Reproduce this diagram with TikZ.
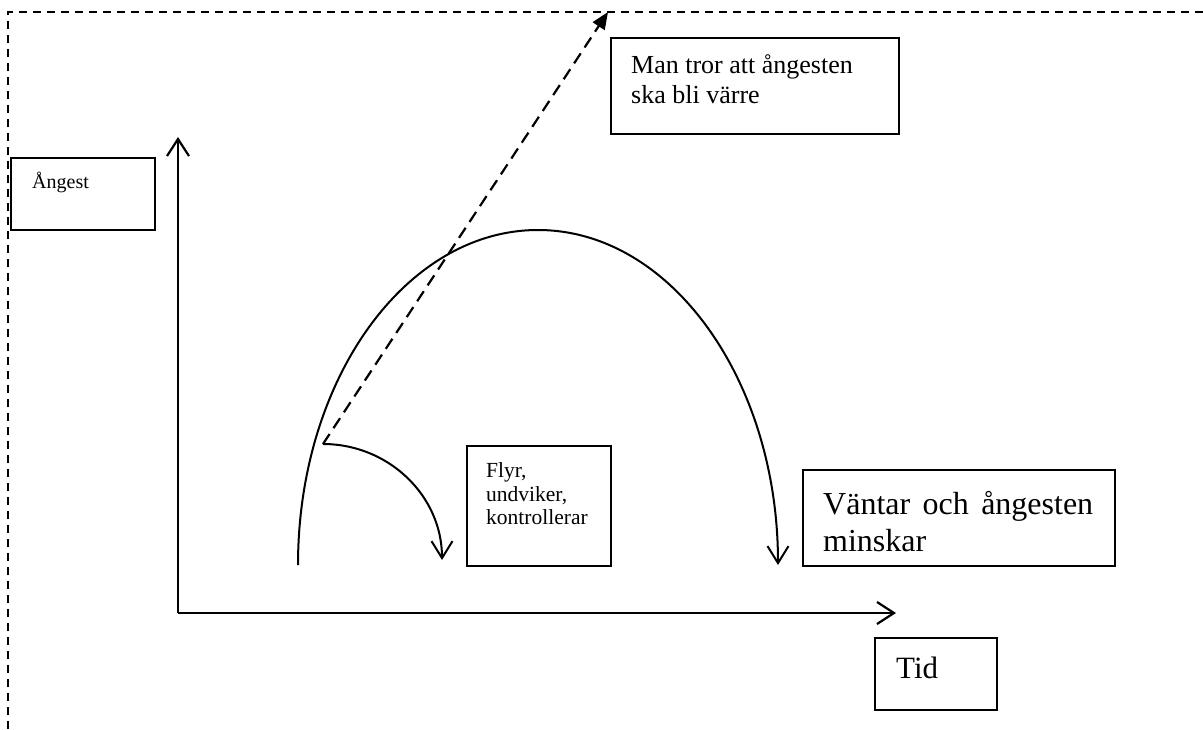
\documentclass[tikz,border=0pt]{standalone}
\usepackage{fontspec}
\setmainfont{Liberation Serif}
\usetikzlibrary{arrows.meta}
\tikzset{
  box/.style={draw, line width=1.6pt, inner sep=0pt},
  txt/.style={anchor=base west, inner sep=0pt},
  axis/.style={line width=2.2pt, -{Straight Barb[length=17pt,width=22pt,line width=2.2pt]}},
  curve/.style={line width=2pt, -{Straight Barb[length=17pt,width=21pt,line width=2pt]}},
  frame/.style={line width=1.3pt, dash pattern=on 8pt off 6pt},
  belief/.style={line width=2.2pt, dash pattern=on 12pt off 7pt, -{Triangle[length=17pt,width=14pt]}}
}
\begin{document}
\begin{tikzpicture}[x=1pt,y=1pt]
\useasboundingbox (0,-729) rectangle (1203,0);
% outer dashed frame (top and left edges visible)
\coordinate (fbl) at (8,-729);
\coordinate (ftl) at (8,-12);
\coordinate (ftr) at (1203,-12);
\draw[frame] (fbl) -- (ftl) -- (ftr);

% boxes
\node[box, minimum width=144pt, minimum height=72pt, anchor=north west] (angbox) at (10,-157) {};
\node[box, minimum width=288pt, minimum height=96pt, anchor=north west] (manbox) at (610,-37) {};
\node[box, minimum width=144pt, minimum height=120pt, anchor=north west] (flybox) at (466,-445) {};
\node[box, minimum width=312pt, minimum height=96pt, anchor=north west] (vanbox) at (802,-469) {};
\node[box, minimum width=122pt, minimum height=72pt, anchor=north west] (tidbox) at (874,-637) {};

% texts
\node[txt, font=\fontsize{20}{24}\selectfont] (angtxt) at (32,-188) {Ångest};
\node[txt, font=\fontsize{26}{30}\selectfont] (man1) at (631,-73) {Man tror att ångesten};
\node[txt, font=\fontsize{26}{30}\selectfont] (man2) at (631,-103) {ska bli värre};
\node[txt, font=\fontsize{21.5}{24}\selectfont] (fly1) at (486,-477) {Flyr,};
\node[txt, font=\fontsize{21.5}{24}\selectfont] (fly2) at (486,-501) {undviker,};
\node[txt, font=\fontsize{21.5}{24}\selectfont] (fly3) at (486,-524) {kontrollerar};
\node[txt, font=\fontsize{32}{37}\selectfont] (van1) at (823,-514) {\makebox[270pt][s]{Väntar och ångesten}};
\node[txt, font=\fontsize{32}{37}\selectfont] (van2) at (823,-551) {minskar};
\node[txt, font=\fontsize{31}{36}\selectfont] (tidtxt) at (896,-678) {Tid};

% axes
\coordinate (O) at (178,-613);
\coordinate (ytip) at (178,-137);
\coordinate (xtip) at (896,-613);
\draw[axis] (O) -- (ytip);
\draw[axis] (O) -- (xtip);

% big arc: waiting, anxiety decreases
\coordinate (astart) at (298,-565);
\draw[curve] (astart) arc[start angle=180, end angle=0, x radius=240pt, y radius=335pt] coordinate (aend);

% escape arc
\coordinate (esc) at (323,-444);
\draw[curve] (esc) arc[start angle=90, end angle=0, x radius=119pt, y radius=116pt] coordinate (escend);

% dashed belief arrow
\coordinate (dtip) at (608,-12);
\draw[belief] (esc) -- (dtip);
\end{tikzpicture}
\end{document}
